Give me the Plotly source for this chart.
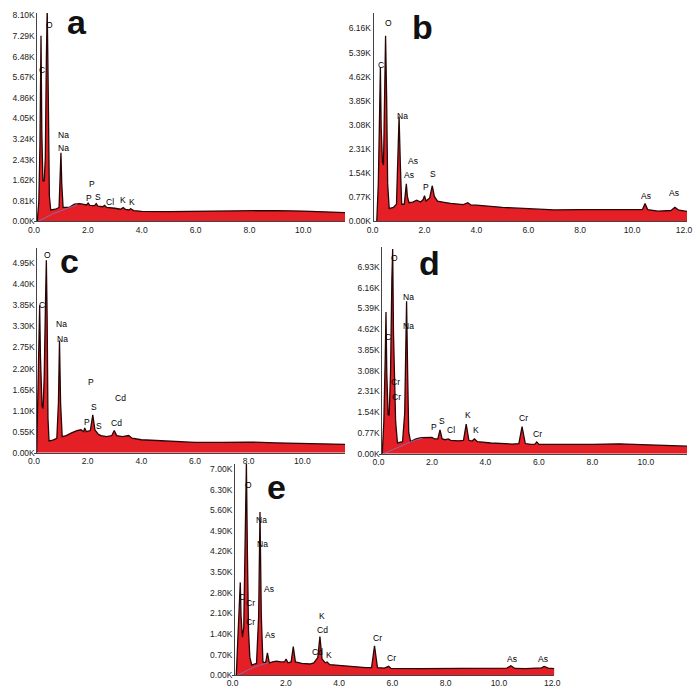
import plotly.graph_objects as go

W, H = 700, 697

# ---------------- data (energy keV, counts in K) ----------------
a_energy = [0.12, 0.18, 0.22, 0.26, 0.29, 0.33, 0.38, 0.42, 0.46, 0.49, 0.53, 0.57, 0.62, 0.80, 0.93, 0.97,
            1.00, 1.03, 1.08, 1.30, 1.50, 1.70, 1.95, 2.01, 2.07, 2.25, 2.31, 2.37, 2.55, 2.62, 2.70, 3.00,
            3.22, 3.31, 3.40, 3.52, 3.59, 3.70, 4.00, 5.00, 6.00, 7.00, 8.00, 9.00, 10.00, 11.00, 11.55]
a_counts = [0.0, 0.8, 3.0, 7.3, 3.5, 1.6, 1.6, 2.5, 6.5, 8.4, 5.0, 1.0, 0.45, 0.48, 0.55, 1.5,
            2.7, 1.5, 0.55, 0.55, 0.68, 0.70, 0.65, 0.72, 0.63, 0.62, 0.70, 0.60, 0.58, 0.63, 0.55, 0.52,
            0.48, 0.55, 0.47, 0.45, 0.50, 0.43, 0.40, 0.39, 0.40, 0.42, 0.44, 0.43, 0.41, 0.38, 0.35]
a_bg_energy = [0.15, 0.40, 0.70, 1.00, 1.30, 1.60]
a_bg_counts = [0.0, 0.15, 0.30, 0.42, 0.55, 0.66]

b_energy = [0.16, 0.22, 0.27, 0.30, 0.33, 0.38, 0.42, 0.46, 0.50, 0.54, 0.58, 0.64, 0.80, 0.92, 0.97,
            1.02, 1.07, 1.12, 1.22, 1.27, 1.30, 1.34, 1.40, 1.55, 1.70, 1.85, 1.95, 2.00, 2.06, 2.20,
            2.30, 2.38, 2.50, 2.70, 3.00, 3.50, 3.67, 3.80, 4.00, 5.00, 6.00, 7.00, 8.00, 9.00, 10.00,
            10.40, 10.50, 10.60, 11.00, 11.50, 11.65, 11.80, 12.12]
b_counts = [0.0, 1.2, 3.5, 4.92, 3.0, 1.9, 1.8, 3.5, 5.93, 4.0, 1.2, 0.41, 0.45, 0.55, 1.8,
            3.35, 1.8, 0.55, 0.55, 0.9, 1.2, 0.8, 0.6, 0.62, 0.68, 0.62, 0.70, 0.82, 0.65, 0.75,
            1.14, 0.80, 0.65, 0.62, 0.58, 0.54, 0.60, 0.52, 0.52, 0.45, 0.40, 0.37, 0.38, 0.38, 0.36,
            0.38, 0.57, 0.38, 0.33, 0.35, 0.45, 0.36, 0.32]

c_energy = [0.10, 0.15, 0.19, 0.21, 0.24, 0.30, 0.34, 0.38, 0.43, 0.46, 0.49, 0.52, 0.56, 0.70, 0.85,
            0.91, 0.95, 0.99, 1.05, 1.20, 1.40, 1.60, 1.75, 1.85, 1.89, 1.95, 2.10, 2.19, 2.27, 2.40,
            2.50, 2.70, 2.90, 2.99, 3.08, 3.30, 3.53, 3.65, 4.00, 5.00, 6.00, 7.00, 8.00, 9.00, 10.00,
            11.00, 11.59]
c_counts = [0.0, 1.5, 3.0, 3.85, 2.5, 1.2, 1.16, 2.0, 4.0, 5.03, 3.5, 0.9, 0.31, 0.33, 0.38,
            1.3, 2.93, 1.3, 0.42, 0.45, 0.52, 0.58, 0.60, 0.55, 0.65, 0.55, 0.58, 0.99, 0.60, 0.48,
            0.45, 0.42, 0.45, 0.58, 0.45, 0.42, 0.45, 0.38, 0.34, 0.30, 0.27, 0.27, 0.28, 0.26, 0.25,
            0.24, 0.22]

d_energy = [0.14, 0.20, 0.25, 0.28, 0.31, 0.36, 0.40, 0.45, 0.50, 0.53, 0.56, 0.60, 0.64, 0.71, 0.90,
            0.98, 1.02, 1.05, 1.09, 1.13, 1.20, 1.40, 1.60, 1.80, 2.00, 2.10, 2.22, 2.30, 2.38, 2.50,
            2.61, 2.70, 3.00, 3.18, 3.28, 3.38, 3.50, 3.59, 3.70, 4.20, 5.00, 5.25, 5.37, 5.49, 5.70,
            5.85, 5.92, 6.00, 7.00, 8.00, 9.00, 10.00, 11.00, 11.54]
d_counts = [0.0, 1.2, 3.5, 5.26, 3.0, 1.45, 1.44, 3.0, 6.5, 7.6, 4.5, 2.4, 1.2, 0.40, 0.45,
            1.5, 4.0, 5.66, 3.0, 0.8, 0.45, 0.55, 0.60, 0.60, 0.61, 0.55, 0.55, 0.89, 0.55, 0.52,
            0.55, 0.50, 0.48, 0.50, 1.10, 0.50, 0.47, 0.55, 0.45, 0.40, 0.36, 0.38, 1.01, 0.38, 0.35,
            0.36, 0.44, 0.35, 0.34, 0.35, 0.37, 0.34, 0.30, 0.28]
d_bg_energy = [0.18, 0.45, 0.75, 1.05, 1.35, 1.65]
d_bg_counts = [0.0, 0.12, 0.25, 0.38, 0.50, 0.58]

e_energy = [0.14, 0.20, 0.25, 0.29, 0.32, 0.37, 0.42, 0.47, 0.52, 0.56, 0.60, 0.65, 0.72, 0.90, 0.98,
            1.03, 1.08, 1.14, 1.24, 1.31, 1.38, 1.50, 1.65, 1.80, 1.95, 2.01, 2.08, 2.20, 2.28, 2.36,
            2.60, 2.90, 3.05, 3.12, 3.20, 3.28, 3.36, 3.48, 3.55, 3.65, 4.00, 4.50, 5.00, 5.22, 5.33,
            5.44, 5.70, 5.86, 5.95, 7.00, 8.00, 9.00, 10.00, 10.30, 10.45, 10.60, 11.00, 11.60, 11.70,
            11.85, 12.08]
e_counts = [0.0, 1.2, 2.5, 3.15, 2.0, 1.29, 1.6, 4.5, 7.2, 4.0, 1.5, 0.6, 0.35, 0.40, 2.0,
            5.54, 2.0, 0.45, 0.42, 0.76, 0.42, 0.45, 0.48, 0.45, 0.45, 0.55, 0.42, 0.45, 0.97, 0.45,
            0.40, 0.38, 0.42, 0.50, 0.60, 1.31, 0.55, 0.42, 0.45, 0.36, 0.33, 0.28, 0.26, 0.26, 1.00,
            0.26, 0.24, 0.30, 0.23, 0.22, 0.22, 0.22, 0.22, 0.24, 0.32, 0.23, 0.22, 0.25, 0.30,
            0.24, 0.22]
e_bg_energy = [0.18, 0.45, 0.75, 1.05, 1.35]
e_bg_counts = [0.0, 0.12, 0.25, 0.35, 0.42]

# peak labels: text, energy, height (K)
a_label_text = ["O", "C", "Na", "Na", "P", "P", "S", "Cl", "K", "K"]
a_label_e = [0.57, 0.31, 1.08, 1.08, 2.17, 2.03, 2.36, 2.83, 3.30, 3.63]
a_label_k = [7.73, 5.94, 3.38, 2.87, 1.47, 0.93, 0.97, 0.78, 0.85, 0.78]

b_label_text = ["O", "C", "Na", "As", "As", "P", "S", "As", "As"]
b_label_e = [0.61, 0.33, 1.15, 1.56, 1.40, 2.07, 2.34, 10.53, 11.63]
b_label_k = [6.32, 5.00, 3.38, 1.93, 1.47, 1.11, 1.52, 0.80, 0.92]

c_label_text = ["O", "C", "Na", "Na", "P", "Cd", "S", "P", "S", "Cd"]
c_label_e = [0.51, 0.30, 1.03, 1.06, 2.11, 3.23, 2.25, 1.97, 2.41, 3.07]
c_label_k = [5.16, 3.85, 3.37, 2.97, 1.85, 1.42, 1.19, 0.80, 0.69, 0.77]

d_label_text = ["O", "C", "Na", "Na", "Cr", "Cr", "P", "S", "Cl", "K", "K", "Cr", "Cr"]
d_label_e = [0.61, 0.37, 1.11, 1.14, 0.65, 0.67, 2.06, 2.37, 2.70, 3.35, 3.63, 5.43, 5.94]
d_label_k = [7.25, 4.32, 5.80, 4.74, 2.67, 2.12, 0.98, 1.22, 0.90, 1.42, 0.89, 1.32, 0.75]

e_label_text = ["O", "C", "Cr", "Cr", "Na", "Na", "As", "As", "K", "Cd", "Cd", "K", "Cr", "Cr", "As", "As"]
e_label_e = [0.60, 0.35, 0.66, 0.66, 1.10, 1.13, 1.36, 1.39, 3.34, 3.36, 3.18, 3.63, 5.43, 5.95, 10.50, 11.65]
e_label_k = [6.47, 2.65, 2.46, 1.82, 5.28, 4.44, 2.91, 1.38, 2.01, 1.54, 0.78, 0.70, 1.25, 0.59, 0.56, 0.56]

# axis tick values / labels
a_yticks = [0, 0.81, 1.62, 2.43, 3.24, 4.05, 4.86, 5.67, 6.48, 7.29, 8.10]
b_yticks = [0, 0.77, 1.54, 2.31, 3.08, 3.85, 4.62, 5.39, 6.16]
c_yticks = [0, 0.55, 1.10, 1.65, 2.20, 2.75, 3.30, 3.85, 4.40, 4.95]
d_yticks = [0, 0.77, 1.54, 2.31, 3.08, 3.85, 4.62, 5.39, 6.16, 6.93]
e_yticks = [0, 0.70, 1.40, 2.10, 2.80, 3.50, 4.20, 4.90, 5.60, 6.30, 7.00]
x_ticks_short = [0, 2, 4, 6, 8, 10]
x_ticks_long = [0, 2, 4, 6, 8, 10, 12]

# ---------------- layout geometry (pixels) ----------------
# left px, right px, y-axis px, x-origin px, px per keV, baseline px, top px, px per K, letter x, letter y
geom = {
    "a": (28, 345, 31, 28.5, 27.4, 221, 10, 25.74, 72, 19),
    "b": (373, 693, 373, 373, 26.4, 221, 10, 31.69, 424, 24),
    "c": (28, 345, 31, 28.5, 27.3, 455, 248, 38.73, 65, 261),
    "d": (379, 693, 382, 379, 27.2, 456, 247, 27.27, 431, 263),
    "e": (230, 558, 232, 230.5, 27.1, 680, 466, 29.80, 275, 490),
}

panels = [
    ("a", a_energy, a_counts, a_bg_energy, a_bg_counts, a_label_text, a_label_e, a_label_k, a_yticks, x_ticks_short),
    ("b", b_energy, b_counts, None, None, b_label_text, b_label_e, b_label_k, b_yticks, x_ticks_long),
    ("c", c_energy, c_counts, None, None, c_label_text, c_label_e, c_label_k, c_yticks, x_ticks_short),
    ("d", d_energy, d_counts, d_bg_energy, d_bg_counts, d_label_text, d_label_e, d_label_k, d_yticks, x_ticks_short),
    ("e", e_energy, e_counts, e_bg_energy, e_bg_counts, e_label_text, e_label_e, e_label_k, e_yticks, x_ticks_long),
]

FILL = "rgb(228,32,38)"
EDGE = "rgb(40,6,6)"
TICKFONT = dict(family="Liberation Sans, Arial, sans-serif", size=8.5, color="#222")

fig = go.Figure()
annotations = []
layout = {}

for i, (name, E, K, bgE, bgK, lt, le, lk, yt, xt) in enumerate(panels):
    n = "" if i == 0 else str(i + 1)
    xa, ya = "x" + n, "y" + n
    x0, x1, axpx, org, sc, base, top, pk, lx, ly = geom[name]

    fig.add_trace(go.Scatter(x=E, y=K, xaxis=xa, yaxis=ya, mode="lines",
                             fill="tozeroy", fillcolor=FILL,
                             line=dict(color=EDGE, width=1.3), hoverinfo="skip", showlegend=False))
    if bgE is not None:
        fig.add_trace(go.Scatter(x=bgE, y=bgK, xaxis=xa, yaxis=ya, mode="lines",
                                 line=dict(color="rgba(140,110,180,0.9)", width=1),
                                 hoverinfo="skip", showlegend=False))

    layout["xaxis" + n] = dict(
        domain=[x0 / W, x1 / W],
        range=[(x0 - org) / sc, (x1 - org) / sc],
        anchor=ya, showgrid=False, zeroline=False,
        showline=True, linecolor="#444", linewidth=1,
        tickvals=xt, ticktext=["%.1f" % v for v in xt],
        ticks="", tickfont=TICKFONT,
    )
    layout["yaxis" + n] = dict(
        domain=[(H - base) / H, (H - top) / H],
        range=[0, (base - top) / pk],
        anchor="free", position=axpx / W, showgrid=False, zeroline=False,
        showline=True, linecolor="#444", linewidth=1,
        tickvals=yt, ticktext=["%.2fK" % v for v in yt],
        ticks="", tickfont=TICKFONT,
    )

    for t, ex, ky in zip(lt, le, lk):
        annotations.append(dict(text=t, x=ex, y=ky, xref=xa, yref=ya, showarrow=False,
                                xanchor="center", yanchor="middle",
                                font=dict(family="Liberation Sans, Arial, sans-serif", size=8.5, color="#000")))
    annotations.append(dict(text="<b>%s</b>" % name, x=lx / W, y=(H - ly) / H,
                            xref="paper", yref="paper", showarrow=False,
                            xanchor="center", yanchor="middle",
                            font=dict(family="Liberation Sans, Arial, sans-serif", size=34, color="#111")))

fig.update_layout(width=W, height=H, margin=dict(l=0, r=0, t=0, b=0),
                  paper_bgcolor="white", plot_bgcolor="rgba(0,0,0,0)",
                  annotations=annotations, **layout)

fig.write_html("out.html", config={"displayModeBar": False},
               post_script="document.body.style.margin='0px';")
